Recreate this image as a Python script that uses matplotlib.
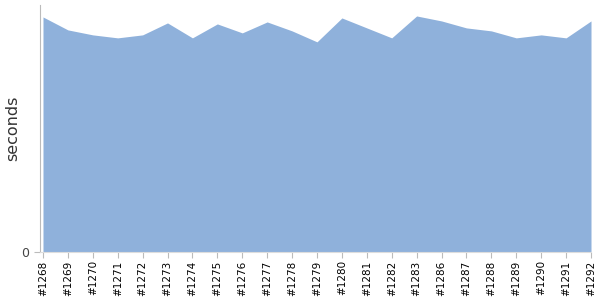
import matplotlib.pyplot as plt

builds = ["#1268", "#1269", "#1270", "#1271", "#1272", "#1273", "#1274", "#1275",
          "#1276", "#1277", "#1278", "#1279", "#1280", "#1281", "#1282", "#1283",
          "#1286", "#1287", "#1288", "#1289", "#1290", "#1291", "#1292"]
seconds = [236, 223, 218, 215, 218, 230, 215, 229, 220, 231, 222, 211,
           235, 225, 215, 237, 232, 225, 222, 215, 218, 215, 232]

fig = plt.figure(figsize=(6, 3), dpi=100)
ax = fig.add_axes([40 / 600, 48 / 300, 551 / 600, 247 / 300])

x = list(range(len(builds)))
ax.fill_between(x, 0, seconds, color="#8fb1db", linewidth=0)

ax.set_xlim(-0.12, len(builds) - 1)
ax.set_ylim(0, 248)
ax.set_xticks(x)
ax.set_xticklabels(builds, rotation=90, fontsize=7.5)
ax.set_yticks([0])
ax.set_yticklabels(["0"], fontsize=9, color="#444444")
ax.set_ylabel("seconds", fontsize=11.5, color="#333333")
ax.yaxis.set_label_coords(-0.036, 0.5)

for s in ["top", "right"]:
    ax.spines[s].set_visible(False)
ax.spines["left"].set_color("#bbbbbb")
ax.spines["bottom"].set_color("#dddddd")
ax.tick_params(axis="both", colors="#bbbbbb", length=4, width=0.8)
ax.tick_params(axis="x", labelcolor="black", pad=2)
ax.tick_params(axis="y", labelcolor="#444444")

fig.savefig("out.png", dpi=100)
